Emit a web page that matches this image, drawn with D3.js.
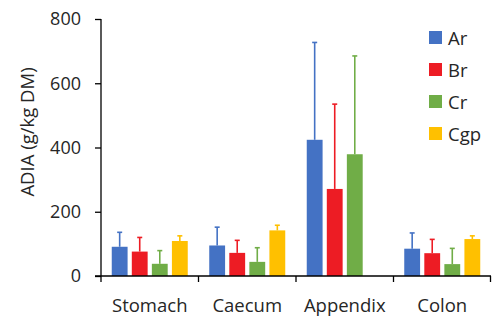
<!DOCTYPE html>
<html>
<head>
<meta charset="utf-8">
<script src="https://cdn.jsdelivr.net/npm/d3@7"></script>
<style>
  body { margin: 0; background: #fff; }
  text { font-family: "Open Sans", "Noto Sans", sans-serif; fill: #262626; }
</style>
</head>
<body>
<div class="container"></div>
<script>
var w = 492;
var h = 318;

// chart data
var categories = ["Stomach", "Caecum", "Appendix", "Colon"];
var series = ["Ar", "Br", "Cr", "Cgp"];
var colors = ["#4472C4", "#ED1C24", "#70AD47", "#FFC000"];
var means = [
  [91, 76, 38, 109],
  [95, 72, 44, 142],
  [424, 271, 379, 0],
  [85, 71, 37, 115]
];
var upper = [
  [136, 120, 79, 125],
  [152, 111, 88, 158],
  [727, 535, 685, 0],
  [134, 114, 86, 125]
];
var yTicks = [0, 200, 400, 600, 800];

var margin = { left: 101, right: 1, top: 19, bottom: 42 };

var svg = d3.select(".container")
  .append("svg")
  .attr("width", w)
  .attr("height", h);

var xScale = d3.scaleBand()
  .domain(categories)
  .range([margin.left, w - margin.right]);

var inner = d3.scaleBand()
  .domain(series)
  .range([0, 76])
  .paddingInner(0.21)
  .paddingOuter(0);

var yScale = d3.scaleLinear()
  .domain([0, 800])
  .range([h - margin.bottom, margin.top]);

var rows = [];
categories.forEach(function (c, i) {
  series.forEach(function (s, j) {
    rows.push({ cat: c, ser: s, v: means[i][j], up: upper[i][j], color: colors[j] });
  });
});

function barX(d) {
  return xScale(d.cat) + (xScale.bandwidth() - 76) / 2 + inner(d.ser);
}

// error bars (upper only)
var errs = svg.append("g")
  .selectAll("g")
  .data(rows.filter(function (d) { return d.v > 0; }))
  .enter()
  .append("g")
  .attr("stroke", function (d) { return d.color; })
  .attr("stroke-width", 1.6);

errs.append("line")
  .attr("x1", function (d) { return barX(d) + inner.bandwidth() / 2; })
  .attr("x2", function (d) { return barX(d) + inner.bandwidth() / 2; })
  .attr("y1", function (d) { return yScale(d.v); })
  .attr("y2", function (d) { return yScale(d.up); });

errs.append("line")
  .attr("x1", function (d) { return barX(d) + inner.bandwidth() / 2 - 2.5; })
  .attr("x2", function (d) { return barX(d) + inner.bandwidth() / 2 + 2.5; })
  .attr("y1", function (d) { return yScale(d.up); })
  .attr("y2", function (d) { return yScale(d.up); });

// bars
svg.append("g")
  .selectAll("rect")
  .data(rows)
  .enter()
  .append("rect")
  .attr("x", barX)
  .attr("width", inner.bandwidth())
  .attr("y", function (d) { return yScale(d.v); })
  .attr("height", function (d) { return yScale(0) - yScale(d.v); })
  .attr("fill", function (d) { return d.color; });

// y axis
var yAxis = d3.axisLeft(yScale).tickValues(yTicks).tickSize(6).tickPadding(14);
var gy = svg.append("g")
  .attr("transform", "translate(" + margin.left + ",0)")
  .call(yAxis);
gy.select(".domain").attr("stroke", "#000").attr("stroke-width", 1.3)
  .attr("d", "M0," + yScale(800) + "V" + yScale(0));
gy.selectAll(".tick line").attr("stroke", "#000").attr("stroke-width", 1.3);
gy.selectAll(".tick text")
  .attr("font-size", 18)
  .attr("font-family", "Open Sans, sans-serif")
  .attr("fill", "#262626");

// x axis
var gx = svg.append("g")
  .attr("transform", "translate(0," + yScale(0) + ")");
gx.append("line")
  .attr("x1", margin.left - 6)
  .attr("x2", w - margin.right)
  .attr("stroke", "#000")
  .attr("stroke-width", 1.3);
var bounds = categories.map(function (c) { return xScale(c); }).concat([w - margin.right - 0.5]);
gx.selectAll(".sep")
  .data(bounds)
  .enter()
  .append("line")
  .attr("x1", function (d) { return d; })
  .attr("x2", function (d) { return d; })
  .attr("y1", 0)
  .attr("y2", 6)
  .attr("stroke", "#000")
  .attr("stroke-width", 1.3);
gx.selectAll(".lab")
  .data(categories)
  .enter()
  .append("text")
  .attr("x", function (d) { return xScale(d) + xScale.bandwidth() / 2; })
  .attr("y", 36)
  .attr("text-anchor", "middle")
  .attr("font-size", 18.5)
  .text(function (d) { return d; });

// y label
svg.append("text")
  .attr("transform", "translate(34,132) rotate(-90)")
  .attr("text-anchor", "middle")
  .attr("font-size", 18.5)
  .text("ADIA (g/kg DM)");

// legend
var legend = svg.append("g")
  .selectAll("g")
  .data(series)
  .enter()
  .append("g")
  .attr("transform", function (d, i) { return "translate(429," + (31 + i * 32) + ")"; });
legend.append("rect")
  .attr("width", 13)
  .attr("height", 13)
  .attr("fill", function (d, i) { return colors[i]; });
legend.append("text")
  .attr("x", 19)
  .attr("y", 13.5)
  .attr("font-size", 18.5)
  .text(function (d) { return d; });
</script>
</body>
</html>
